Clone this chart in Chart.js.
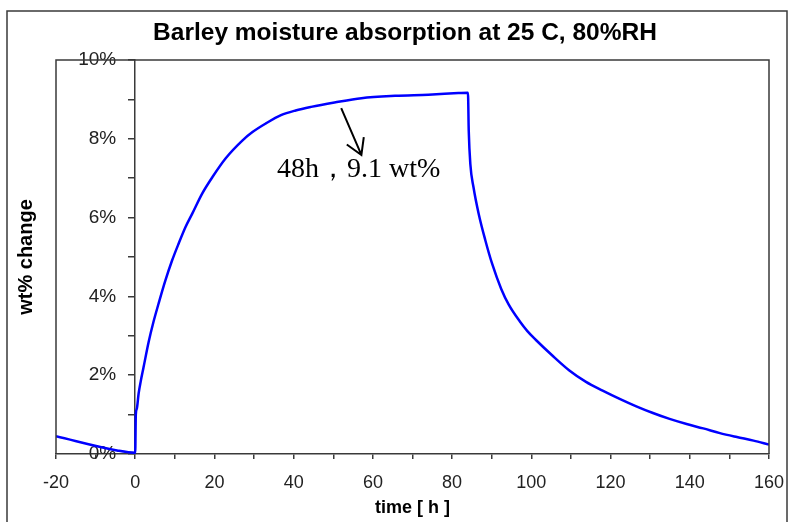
<!DOCTYPE html>
<html>
<head>
<meta charset="utf-8">
<script src="https://cdn.jsdelivr.net/npm/chart.js@4/dist/chart.umd.min.js"></script>
<style>
    html, body { margin: 0; padding: 0; background: #fff; }
    #wrap { width: 789px; height: 522px; position: relative; }
</style>
</head>
<body>
<div id="wrap"><canvas id="grafico"></canvas></div>
<script>
// ── DATOS ─────────────────────────────────────────────
const titulo   = 'Barley moisture absorption at 25 C, 80%RH';
const ejeX     = 'time [ h ]';
const ejeY     = 'wt% change';

// tiempo (h) y cambio de peso (%)
const tiempoH = [-20, -4.6, 0, 0.15, 0.4, 0.85, 1.4, 2.1, 3.4, 4.6, 5.9, 7.6, 9.3, 11, 12.7, 14.4,
    16.9, 19.5, 22.8, 27.1, 29.6, 33, 36.8, 40.5, 44.4, 50.3, 57.1, 65.6, 74, 81.6, 84,
    84.2, 84.6, 85.4, 86.7, 88.4, 90.1, 92.4, 94.3, 97.2, 99, 101.1, 105.3, 109.6, 113.8,
    118, 122.3, 126.5, 130.7, 134.9, 139.2, 143.4, 147.6, 151.9, 156.1, 160];
const pesoPct = [0.45, 0.09, 0.03, 1.0, 1.15, 1.53, 1.85, 2.2, 2.85, 3.35, 3.82, 4.4, 4.91, 5.35, 5.76, 6.1,
    6.61, 7.03, 7.5, 7.96, 8.17, 8.39, 8.6, 8.72, 8.81, 8.92, 9.03, 9.09, 9.12, 9.16, 9.17,
    8.2, 7.36, 6.77, 6.1, 5.42, 4.83, 4.19, 3.79, 3.35, 3.12, 2.9, 2.5, 2.12, 1.83,
    1.61, 1.4, 1.21, 1.04, 0.89, 0.76, 0.65, 0.53, 0.43, 0.34, 0.24];

// anotación: flecha y texto (en coordenadas de datos)
const notaTexto   = '48h，9.1 wt%';
const notaFlecha  = { x0: 52, y0: 8.78, x1: 57.1, y1: 7.59 };
const notaPos     = { x: 35.8, y: 7.03 };

const GRIS = '#3a3a3a';
const SANS = '"Liberation Sans", Arial, sans-serif';

// ── PLUGIN: marcos, títulos y anotación ─────────
const marco = {
    id: 'marco',
    afterDraw(chart) {
        const { ctx, chartArea: a, scales: { x, y } } = chart;
        ctx.save();
        ctx.strokeStyle = GRIS;
        ctx.lineWidth = 1.5;
        // marco exterior
        ctx.strokeRect(7, 11, 780, 600);
        // caja del gráfico (izq, arriba, der)
        ctx.beginPath();
        ctx.moveTo(a.left, a.bottom);
        ctx.lineTo(a.left, a.top);
        ctx.lineTo(a.right, a.top);
        ctx.lineTo(a.right, a.bottom);
        ctx.stroke();

        // título principal
        ctx.fillStyle = '#000';
        ctx.font = 'bold 24.5px ' + SANS;
        ctx.textAlign = 'center';
        ctx.textBaseline = 'middle';
        ctx.fillText(titulo, 405, 33);

        // título eje Y
        ctx.font = 'bold 20px ' + SANS;
        ctx.translate(26, (a.top + a.bottom) / 2);
        ctx.rotate(-Math.PI / 2);
        ctx.fillText(ejeY, 0, 0);
        ctx.restore();

        // flecha
        ctx.save();
        const px0 = x.getPixelForValue(notaFlecha.x0), py0 = y.getPixelForValue(notaFlecha.y0);
        const px1 = x.getPixelForValue(notaFlecha.x1), py1 = y.getPixelForValue(notaFlecha.y1);
        const ang = Math.atan2(py1 - py0, px1 - px0);
        ctx.strokeStyle = '#000';
        ctx.lineWidth = 2;
        ctx.beginPath();
        ctx.moveTo(px0, py0);
        ctx.lineTo(px1, py1);
        ctx.moveTo(px1 - 18 * Math.cos(ang - 0.54), py1 - 18 * Math.sin(ang - 0.54));
        ctx.lineTo(px1, py1);
        ctx.lineTo(px1 - 18 * Math.cos(ang + 0.54), py1 - 18 * Math.sin(ang + 0.54));
        ctx.stroke();

        ctx.fillStyle = '#000';
        ctx.font = '28px "Liberation Serif", "Times New Roman", serif';
        ctx.textAlign = 'left';
        ctx.textBaseline = 'alphabetic';
        ctx.fillText(notaTexto, x.getPixelForValue(notaPos.x), y.getPixelForValue(notaPos.y));
        ctx.restore();
    }
};

const puntos = tiempoH.map((t, i) => ({ x: t, y: pesoPct[i] }));

new Chart(document.getElementById('grafico').getContext('2d'), {
    type: 'line',
    data: {
        datasets: [{
            data: puntos,
            borderColor: '#0000ff',
            borderWidth: 2.5,
            pointRadius: 0,
            cubicInterpolationMode: 'monotone',
            fill: false
        }]
    },
    options: {
        responsive: true,
        maintainAspectRatio: false,
        animation: false,
        layout: { padding: { left: 56, right: 20, top: 60, bottom: 2 } },
        plugins: {
            legend: { display: false },
            tooltip: { enabled: false },
            title: { display: false }
        },
        scales: {
            x: {
                type: 'linear',
                min: -20,
                max: 160,
                afterFit: s => { s.height = 66; s.paddingLeft = 0; s.paddingRight = 0; },
                border: { color: GRIS, width: 1.5 },
                grid: { drawOnChartArea: false, color: GRIS, lineWidth: 1.5, tickLength: 5 },
                ticks: {
                    stepSize: 10,
                    autoSkip: false,
                    maxRotation: 0,
                    padding: 13,
                    color: '#222',
                    font: { family: SANS, size: 18 },
                    callback: v => (v % 20 === 0 ? v : '')
                },
                title: {
                    display: true,
                    text: ejeX,
                    color: '#000',
                    font: { family: SANS, size: 18, weight: 'bold' },
                    padding: { top: 3.6, bottom: 1.2 }
                }
            },
            y: {
                type: 'linear',
                position: { x: 0 },
                min: 0,
                max: 10,
                border: { color: GRIS, width: 1.5 },
                grid: { drawOnChartArea: false, color: GRIS, lineWidth: 1.5, tickLength: 6 },
                ticks: {
                    stepSize: 1,
                    autoSkip: false,
                    color: '#222',
                    font: { family: SANS, size: 19 },
                    callback: v => (v % 2 === 0 ? v + '%\u2002\u2002' : '')
                }
            }
        }
    },
    plugins: [marco]
});
</script>
</body>
</html>
